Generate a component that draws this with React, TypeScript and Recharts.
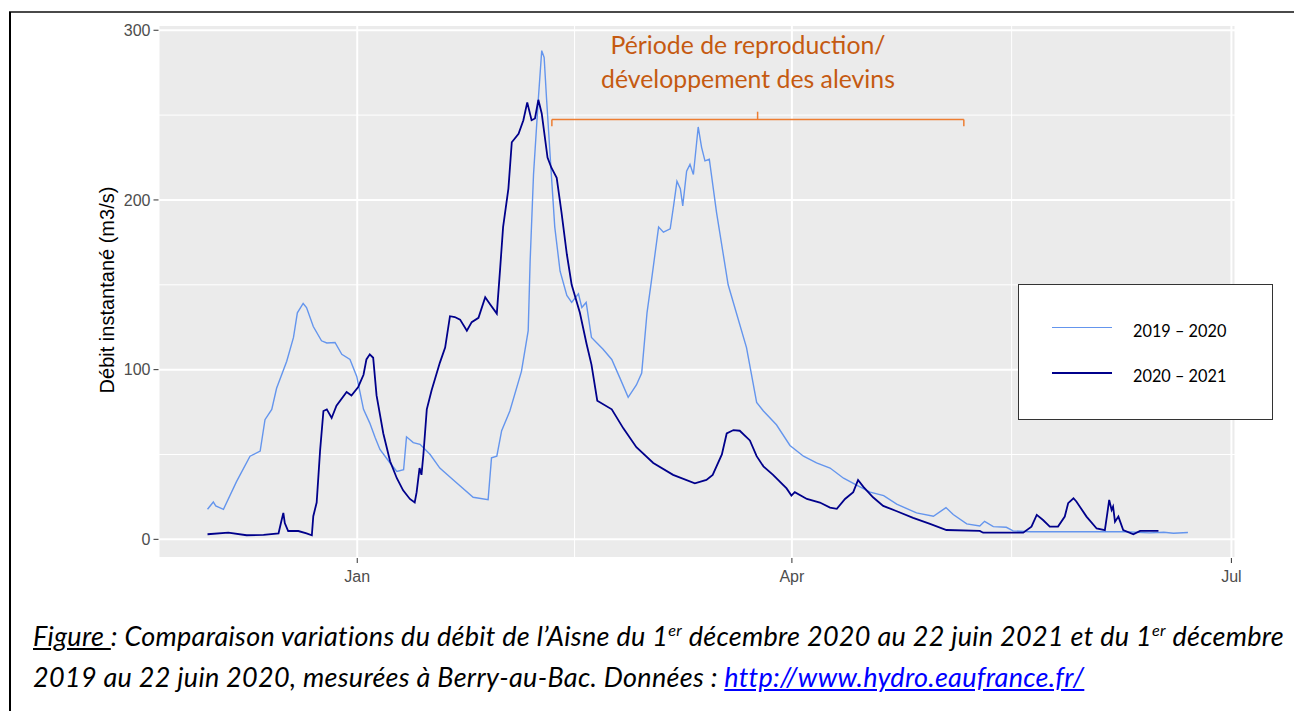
import { LineChart, Line, XAxis, YAxis, CartesianGrid, ReferenceLine } from 'recharts'

// x = days since 1 December, y = flow (m3/s)
const tickDays = [31, 121, 212]
const tickLabels = ['Jan', 'Apr', 'Jul']
const flowTicks = [0, 100, 200, 300]
const minorFlow = [50, 150, 250]
const minorDays = [76, 166.5]

const days1920 = [
  0, 1.2, 1.7, 3.3, 6, 8.8, 10.9, 11.9, 13.3, 14.3, 16.4, 17.8, 18.6, 19.8, 20.5, 21.9, 23.6, 24.7, 26.4,
  27.8, 29.5, 30.9, 32.3, 33.6, 34.7, 35.7, 37.8, 39.2, 40.6, 41.2, 42.6, 44, 46.1, 48.1, 50.9, 55, 58.1,
  58.8, 59.9, 60.9, 62.6, 65, 66.4, 66.8, 67.5, 68.5, 69.2, 69.7, 70.2, 71.1, 71.9, 73, 74.4, 75.4, 76.8,
  77.5, 78.4, 79.5, 81.9, 83.7, 85.4, 87.1, 88.8, 89.9, 91, 91.8, 93.4, 94.4, 95.8, 96.5, 97.2, 97.9, 98.4,
  99.2, 99.9, 100.6, 101.6, 102.3, 103, 103.9, 105.4, 107.8, 111.6, 113.7, 115.1, 117.8, 120.6, 123.4,
  126.1, 128.9, 131.7, 134.4, 137.2, 140, 142.7, 146.8, 150.3, 152.9, 154.4, 157.2, 159.9, 160.9, 162.7,
  165.4, 166.8, 170.3, 180, 190, 195, 198, 200, 203,
]
const flow1920 = [
  17.7, 22, 19.7, 17.7, 34, 49, 52, 70.5, 76.6, 89, 105, 119, 133.5, 139, 136.6, 125.4, 117, 115.7, 116,
  109, 106, 96, 76.6, 68.5, 60, 53, 45, 40, 41, 60.4, 57, 56, 50, 42, 35, 24.8, 23.4,
  48, 49, 64, 75.6, 99, 123, 164, 215, 259.6, 288, 284, 259.6, 219, 184, 158, 143.7, 139.6, 144.7,
  136.6, 139.6, 119, 112, 106, 95, 83.7, 91, 98, 133.5, 150, 184, 181, 183, 196.5, 211, 206.7, 196.5,
  217, 221, 215, 243, 231, 223, 224, 192.5, 150, 113, 80.7, 75.6, 67.5, 55.3, 49,
  45, 42, 36, 32, 27.8, 25.8, 20.7, 15.6, 13.6, 18.7, 14.6, 9.1, 7.9, 10.6, 7.5,
  7.1, 5, 4.5, 4.5, 4.5, 3.8, 4.2, 3.6, 4,
]

const days2021 = [
  0, 4.3, 8.1, 11.6, 14.7, 15.2, 15.7, 16, 16.7, 18.8, 20.5, 21.6, 21.9, 22.6, 23.3, 24, 24.7, 25.7, 26.7,
  28.8, 29.8, 31.2, 32.3, 32.9, 33.6, 34.3, 35, 36.4, 37.8, 39.2, 40.5, 41.9, 42.9, 43.3, 43.9, 44.3, 44.7,
  45.4, 46.4, 48.1, 49.2, 50.2, 51.2, 52.3, 53.7, 54.7, 56.1, 57.5, 58.5, 59.9, 60.6, 61.2, 62.3, 63, 64.4,
  65.4, 66.2, 67.1, 67.8, 68.5, 69.2, 70.4, 71.2, 72.3, 73.3, 74.4, 75.4, 77.1, 78.5, 79.5, 80.7, 83.7,
  86.1, 88.8, 92.3, 96.4, 100.9, 103.3, 104.6, 106.5, 107.5, 108.9, 110.2, 112.3, 113.7, 115.1, 117.1,
  119.9, 120.9, 121.6, 124.1, 126.8, 128.9, 130.3, 132, 133.7, 134.7, 135.8, 137.8, 139.9, 142.6, 146.1,
  149.6, 153, 159.9, 160.6, 168.9, 170.6, 171.7, 173, 174.4, 176.1, 177.5, 178.2, 179.3, 179.9, 182,
  184.1, 185.8, 186.3, 186.7, 187.2, 187.5, 187.9, 188.6, 189.6, 191.7, 193.1, 196.9,
]
const flow2021 = [
  3, 3.9, 2.4, 2.6, 3.5, 9.6, 15.6, 9.6, 4.9, 4.9, 3.5, 2.4, 13.6, 21.7, 52, 75.6, 76.6, 71.5, 78.7,
  86.8, 84.8, 89.8, 97, 106, 109, 107, 84.8, 62.4, 46, 36, 28.9, 23.8, 21.7, 27.8, 42, 38, 50,
  76.6, 87.8, 104, 113, 131.5, 131, 129.5, 123, 128, 130.5, 142.7, 138.6, 133, 160, 184, 206.7, 234, 239,
  247, 257.5, 247, 248, 259, 251, 225, 219, 213, 192.5, 168, 150, 133.5, 115, 103, 81.7, 76.6,
  65.4, 54.3, 45, 38, 33, 35, 38, 50, 62.4, 64.4, 64, 58.3, 49, 43, 38,
  30, 25.8, 27.8, 23.8, 21.7, 18.7, 18, 23.8, 27.8, 35, 30.9, 24.8, 19.7, 16.7, 12.6,
  9.1, 5.5, 5, 3.9, 3.9, 7.5, 14.4, 11.4, 7.5, 7.5, 13.4, 21.3, 24.2, 22.3, 13.4,
  6.4, 5.4, 15.2, 23.2, 17.3, 19.3, 10.4, 13.4, 5.4, 3, 5, 5,
]

const seriesNames = ['2019 – 2020', '2020 – 2021']
const seriesColors = ['#6495ED', '#00008B']
const seriesWidths = [1.4, 1.8]

// bracket over the spawning period: start, middle, end (days) and levels (flow)
const bracketDays = [71.3, 113.9, 156.6]
const bracketFlow = [243.5, 247.4, 252]

const series1920 = days1920.map((d, i) => ({ day: d, flow: flow1920[i] }))
const series2021 = days2021.map((d, i) => ({ day: d, flow: flow2021[i] }))

const axisFont = { fontFamily: '"Liberation Sans", Arial, sans-serif', fontSize: 16, fill: '#4D4D4D' }
const docFont = 'Lato, "Open Sans", sans-serif'
const orange = '#ED7D31'
const supStyle = { fontSize: '0.6em', position: 'relative' as const, top: '-0.6em' }

export default function App() {
  return (
    <div style={{ position: 'absolute', left: 0, top: 0, width: 1294, height: 711, background: '#fff', overflow: 'hidden' }}>
      <div style={{ position: 'absolute', left: 9, top: 11, width: 1285, height: 2, background: '#4a4a4a' }} />
      <div style={{ position: 'absolute', left: 9, top: 12, width: 1.5, height: 699, background: '#000' }} />

      <div style={{ position: 'absolute', left: 0, top: 0 }}>
        <LineChart width={1294} height={711} margin={{ top: 25, right: 58.5, bottom: 113, left: 98.5 }}>
          <CartesianGrid
            fill="#EBEBEB"
            stroke="#fff"
            strokeWidth={1}
            horizontalValues={minorFlow}
            verticalValues={minorDays}
          />
          <CartesianGrid fill="none" stroke="#fff" strokeWidth={2} />
          <XAxis
            type="number"
            dataKey="day"
            domain={[-10.15, 212.85]}
            allowDataOverflow
            ticks={tickDays}
            tickFormatter={(v) => tickLabels[tickDays.indexOf(v)]}
            axisLine={false}
            tickLine={{ stroke: '#333' }}
            tickSize={5}
            tickMargin={8}
            height={40}
            tick={axisFont}
          />
          <YAxis
            type="number"
            domain={[-11, 303.1]}
            allowDataOverflow
            ticks={flowTicks}
            axisLine={false}
            tickLine={{ stroke: '#333' }}
            tickSize={5}
            tickMargin={3}
            width={60}
            tick={axisFont}
          />
          <ReferenceLine
            segment={[{ x: bracketDays[0], y: bracketFlow[1] }, { x: bracketDays[2], y: bracketFlow[1] }]}
            stroke={orange}
            strokeWidth={1.5}
          />
          <ReferenceLine
            segment={[{ x: bracketDays[0], y: bracketFlow[0] }, { x: bracketDays[0], y: bracketFlow[1] }]}
            stroke={orange}
            strokeWidth={1.5}
          />
          <ReferenceLine
            segment={[{ x: bracketDays[2], y: bracketFlow[0] }, { x: bracketDays[2], y: bracketFlow[1] }]}
            stroke={orange}
            strokeWidth={1.5}
          />
          <ReferenceLine
            segment={[{ x: bracketDays[1], y: bracketFlow[1] }, { x: bracketDays[1], y: bracketFlow[2] }]}
            stroke={orange}
            strokeWidth={1.5}
          />
          <Line
            data={series1920}
            dataKey="flow"
            name={seriesNames[0]}
            type="linear"
            stroke={seriesColors[0]}
            strokeWidth={seriesWidths[0]}
            dot={false}
            isAnimationActive={false}
          />
          <Line
            data={series2021}
            dataKey="flow"
            name={seriesNames[1]}
            type="linear"
            stroke={seriesColors[1]}
            strokeWidth={seriesWidths[1]}
            dot={false}
            isAnimationActive={false}
          />
        </LineChart>
      </div>

      <div
        style={{
          position: 'absolute',
          left: 106.7 - 150,
          top: 289.5 - 12,
          width: 300,
          lineHeight: '24px',
          textAlign: 'center',
          transform: 'rotate(-90deg)',
          fontFamily: '"Liberation Sans", Arial, sans-serif',
          fontSize: 20,
          color: '#000',
          whiteSpace: 'nowrap',
        }}
      >
        Débit instantané (m3/s)
      </div>

      <div
        style={{
          position: 'absolute',
          left: 548,
          top: 28,
          width: 400,
          textAlign: 'center',
          fontFamily: docFont,
          fontSize: 24.8,
          lineHeight: '34px',
          color: '#C55A11',
        }}
      >
        <div>Période de reproduction/</div>
        <div>développement des alevins</div>
      </div>

      <div
        style={{
          position: 'absolute',
          left: 1018,
          top: 284,
          width: 253,
          height: 134,
          border: '1.5px solid #333',
          background: '#fff',
        }}
      >
        {seriesNames.map((name, i) => (
          <div key={name} style={{ position: 'absolute', left: 0, top: 28 + i * 45, height: 30, width: 250 }}>
            <div
              style={{
                position: 'absolute',
                left: 33,
                top: 14,
                width: 60,
                height: seriesWidths[i],
                background: seriesColors[i],
              }}
            />
            <div
              style={{
                position: 'absolute',
                left: 114,
                top: 3,
                fontFamily: docFont,
                fontSize: 16.3,
                lineHeight: '30px',
                color: '#000',
                whiteSpace: 'nowrap',
              }}
            >
              {name}
            </div>
          </div>
        ))}
      </div>

      <div
        style={{
          position: 'absolute',
          left: 33,
          top: 617,
          fontFamily: docFont,
          fontStyle: 'italic',
          fontSize: 27,
          letterSpacing: 0.3,
          lineHeight: '37px',
          color: '#000',
          whiteSpace: 'nowrap',
        }}
      >
        <div>
          <span style={{ textDecoration: 'underline' }}>Figure </span>: Comparaison variations du débit de l’Aisne du 1
          <span style={supStyle}>er</span> décembre 2020 au 22 juin 2021 et du 1<span style={supStyle}>er</span> décembre
        </div>
        <div>
          2019 au 22 juin 2020, mesurées à Berry-au-Bac. Données :{' '}
          <span style={{ color: '#0000FF', textDecoration: 'underline' }}>http://www.hydro.eaufrance.fr/</span>
        </div>
      </div>
    </div>
  )
}
